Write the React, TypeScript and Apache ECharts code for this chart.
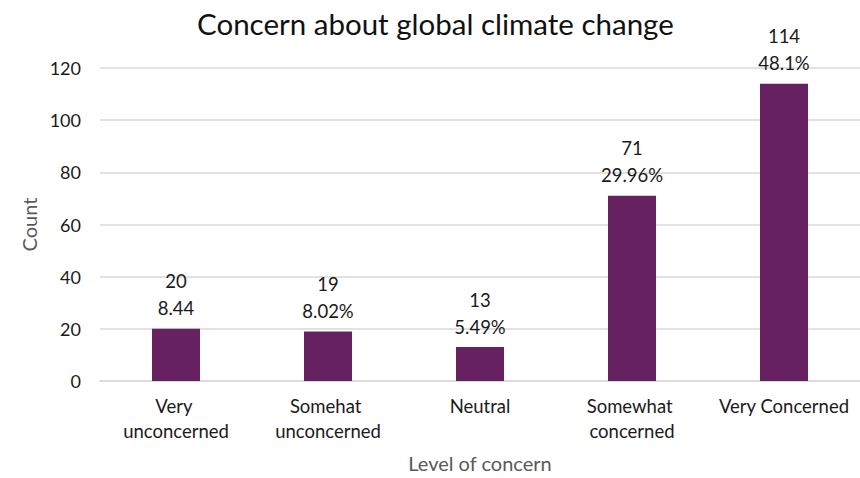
import React, { useEffect, useRef } from "react";
import * as echarts from "echarts";

const categories = [
  "Very unconcerned",
  "Somehat unconcerned",
  "Neutral",
  "Somewhat concerned",
  "Very Concerned",
];
const counts = [20, 19, 13, 71, 114];
const shares = ["8.44", "8.02%", "5.49%", "29.96%", "48.1%"];
const yTicks = { min: 0, max: 120, interval: 20 };

const FONT = "Lato, 'Noto Sans', sans-serif";
const BAR = "#662160";

export default function App() {
  const ref = useRef<HTMLDivElement>(null);

  useEffect(() => {
    if (!ref.current) return;
    const chart = echarts.init(ref.current, undefined, { renderer: "svg" });
    chart.setOption({
      animation: false,
      textStyle: { fontFamily: FONT },
      title: {
        text: "Concern about global climate change",
        left: 197,
        top: 8,
        padding: 0,
        textStyle: { fontFamily: FONT, fontSize: 29.5, fontWeight: "normal", color: "#111" },
      },
      grid: { left: 100, top: 68, width: 765, height: 314.5, containLabel: false },
      xAxis: {
        type: "category",
        data: categories,
        name: "Level of concern",
        nameLocation: "middle",
        nameGap: 72,
        nameTextStyle: { fontFamily: FONT, fontSize: 20, color: "#595959" },
        axisLine: { lineStyle: { color: "#d9d9d9", width: 1.5 } },
        axisTick: { show: false },
        axisLabel: {
          fontFamily: FONT,
          fontSize: 18.5,
          color: "#1a1a1a",
          margin: 12,
          lineHeight: 25,
          width: 142,
          overflow: "break",
          interval: 0,
        },
      },
      yAxis: {
        type: "value",
        min: yTicks.min,
        max: yTicks.max,
        interval: yTicks.interval,
        name: "Count",
        nameLocation: "middle",
        nameGap: 57,
        nameTextStyle: { fontFamily: FONT, fontSize: 20, color: "#595959" },
        axisLine: { show: false },
        axisTick: { show: false },
        axisLabel: { fontFamily: FONT, fontSize: 18, color: "#1a1a1a", margin: 19 },
        splitLine: { lineStyle: { color: "#d9d9d9", width: 1.5 } },
      },
      series: [
        {
          type: "bar",
          data: counts,
          barWidth: 48,
          itemStyle: { color: BAR },
          label: {
            show: true,
            position: "top",
            distance: 7,
            fontFamily: FONT,
            fontSize: 18.5,
            lineHeight: 27,
            color: "#1a1a1a",
            formatter: (p: any) => `${p.value}\n${shares[p.dataIndex]}`,
          },
        },
      ],
    });
    return () => chart.dispose();
  }, []);

  return (
    <div
      ref={ref}
      style={{ position: "absolute", left: 0, top: 0, width: 860, height: 478, background: "#fff" }}
    />
  );
}
